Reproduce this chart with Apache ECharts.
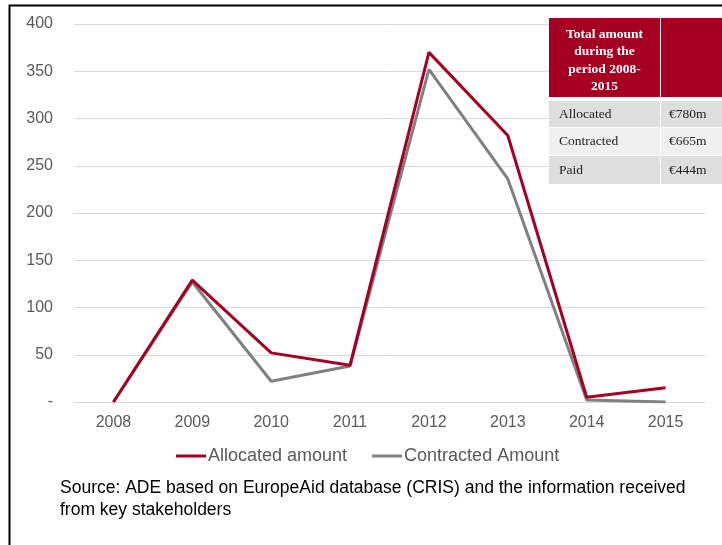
<!DOCTYPE html>
<html>
<head>
<meta charset="utf-8">
<script src="https://cdn.jsdelivr.net/npm/echarts@6/dist/echarts.min.js"></script>
<style>
  html, body { margin: 0; padding: 0; background: #fff; }
  #chart { width: 722px; height: 545px; }
</style>
</head>
<body>
<div id="chart"></div>
<script>
// Yearly amounts (EUR million)
const years = ['2008', '2009', '2010', '2011', '2012', '2013', '2014', '2015'];
const allocated = [0, 129, 52, 39, 370, 282, 5, 15];
const contracted = [0, 127, 22, 38, 352, 236, 2, 0];

// Summary table for the whole period
const tableHeader = 'Total amount\nduring the\nperiod 2008-\n2015';
const tableLabels = ['Allocated', 'Contracted', 'Paid'];
const tableValues = ['€780m', '€665m', '€444m'];

const sourceNote = 'Source: ADE based on EuropeAid database (CRIS) and the information received\nfrom key stakeholders';

const RED = '#a50021';
const GREY = '#808080';
const serif = '"Liberation Serif", "DejaVu Serif", serif';
const sans = '"Liberation Sans", Arial, sans-serif';

const chart = echarts.init(document.getElementById('chart'));

// Table drawn as graphic elements in the upper-right corner
const TZ = 200;
const tableEls = [];
const tx = 549, colW1 = 111, colW2 = 62, headTop = 18, headH = 79;
tableEls.push({ type: 'rect', z: TZ, shape: { x: tx, y: headTop, width: colW1, height: headH }, style: { fill: RED } });
tableEls.push({ type: 'rect', z: TZ, shape: { x: tx + colW1 + 1, y: headTop, width: colW2, height: headH }, style: { fill: RED } });
tableEls.push({
  type: 'text', z: TZ + 1, x: tx + colW1 / 2, y: headTop + headH / 2 + 3,
  style: { text: tableHeader, fill: '#fff', font: 'bold 13.5px ' + serif, align: 'center', verticalAlign: 'middle', lineHeight: 17.5 }
});
const rowTop = [101, 128, 156], rowH = [26, 27, 28];
const rowFill = ['#dedede', '#efefef', '#dedede'];
tableLabels.forEach((lab, i) => {
  tableEls.push({ type: 'rect', z: TZ, shape: { x: tx, y: rowTop[i], width: colW1, height: rowH[i] }, style: { fill: rowFill[i] } });
  tableEls.push({ type: 'rect', z: TZ, shape: { x: tx + colW1 + 1, y: rowTop[i], width: colW2, height: rowH[i] }, style: { fill: rowFill[i] } });
  tableEls.push({ type: 'text', z: TZ + 1, x: tx + 10, y: rowTop[i] + rowH[i] / 2,
    style: { text: lab, fill: '#222', font: '13.5px ' + serif, verticalAlign: 'middle' } });
  tableEls.push({ type: 'text', z: TZ + 1, x: tx + colW1 + 9, y: rowTop[i] + rowH[i] / 2,
    style: { text: tableValues[i], fill: '#222', font: '13.5px ' + serif, verticalAlign: 'middle' } });
});

chart.setOption({
  animation: false,
  backgroundColor: '#fff',
  grid: { left: 74, right: 17, top: 24, bottom: 143, containLabel: false },
  xAxis: {
    type: 'category',
    data: years,
    boundaryGap: true,
    axisLine: { show: true, lineStyle: { color: '#d9d9d9', width: 1 } },
    axisTick: { show: false },
    axisLabel: { color: '#595959', fontFamily: sans, fontSize: 16, margin: 13 }
  },
  yAxis: {
    type: 'value',
    min: 0, max: 400, interval: 50,
    axisLine: { show: false },
    axisTick: { show: false },
    splitLine: { lineStyle: { color: '#d9d9d9', width: 1 } },
    axisLabel: {
      color: '#595959', fontFamily: sans, fontSize: 16, margin: 21,
      formatter: v => (v === 0 ? '-' : String(v))
    }
  },
  legend: {
    top: 442, left: 171,
    itemWidth: 30, itemHeight: 3, itemGap: 25,
    icon: 'rect',
    textStyle: { color: '#595959', fontFamily: sans, fontSize: 18, padding: [0, 0, 0, -3] },
    data: ['Allocated amount', 'Contracted Amount']
  },
  series: [
    {
      name: 'Allocated amount', type: 'line', data: allocated,
      symbol: 'none', lineStyle: { color: RED, width: 3 }, itemStyle: { color: RED }, z: 3
    },
    {
      name: 'Contracted Amount', type: 'line', data: contracted,
      symbol: 'none', lineStyle: { color: GREY, width: 3 }, itemStyle: { color: GREY }, z: 2
    }
  ],
  graphic: {
    z: 100,
    elements: [
      // figure frame (left and top edges)
      { type: 'rect', z: TZ + 10, shape: { x: 9.5, y: 5.5, width: 800, height: 600 },
        style: { fill: null, stroke: '#000', lineWidth: 2 } },
      { type: 'text', left: 60, top: 477, z: TZ,
        style: { text: sourceNote, fill: '#000', font: '17.5px ' + sans, lineHeight: 22 } },
      { type: 'group', z: TZ, children: tableEls }
    ]
  }
});
</script>
</body>
</html>
